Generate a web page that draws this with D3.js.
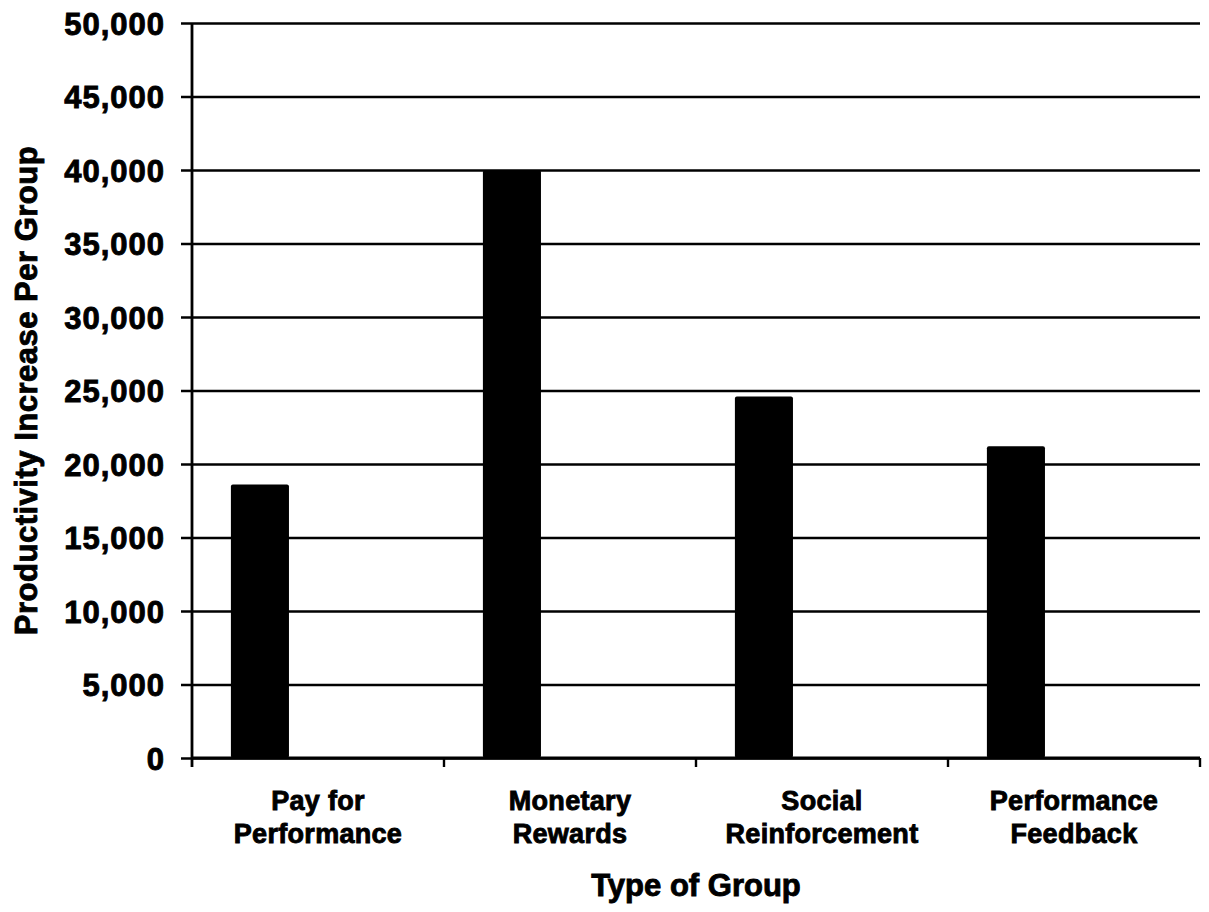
<!DOCTYPE html>
<html>
<head>
<meta charset="utf-8">
<script src="https://cdn.jsdelivr.net/npm/d3@7"></script>
<style>
  html, body { margin: 0; padding: 0; background: #fff; }
  svg { display: block; }
  text { font-family: "Liberation Sans", Arial, Helvetica, sans-serif; font-weight: bold; fill: #000; stroke: #000; stroke-width: 0.9px; }
</style>
</head>
<body>
<svg id="chart" width="1209" height="912"></svg>
<script>
// Productivity increase per group, by type of intervention
const categories = [
  ["Pay for", "Performance"],
  ["Monetary", "Rewards"],
  ["Social", "Reinforcement"],
  ["Performance", "Feedback"]
];
const values = [18600, 40000, 24600, 21200];
const yTicks = [0, 5000, 10000, 15000, 20000, 25000, 30000, 35000, 40000, 45000, 50000];
// each category cluster holds three slots; only the first one carries data
const slots = ["s1", "s2", "s3"];

const margin = { left: 192, right: 9, top: 23, bottom: 154 };
const W = 1209, H = 912;
const innerW = W - margin.left - margin.right;
const innerH = H - margin.top - margin.bottom;

const svg = d3.select("#chart");
const g = svg.append("g").attr("transform", `translate(${margin.left},${margin.top})`);

const keys = categories.map(c => c.join(" "));
const x = d3.scaleBand().domain(keys).range([0, innerW]).padding(0);
const x1 = d3.scaleBand().domain(slots).range([0, x.bandwidth()]).paddingInner(0).paddingOuter(0.67);
const y = d3.scaleLinear().domain([0, 50000]).range([innerH, 0]);

// horizontal gridlines with outside tick marks
const yAxis = d3.axisLeft(y)
  .tickValues(yTicks)
  .tickSize(-innerW)
  .tickPadding(27)
  .tickFormat(d3.format(","));
const ya = g.append("g").call(yAxis);
ya.select(".domain").remove();
ya.selectAll(".tick line")
  .attr("x1", -11)
  .attr("stroke", "#000")
  .attr("stroke-width", 2.6);
ya.selectAll(".tick text")
  .style("font-size", "31px")
  .style("letter-spacing", "1px")
  .attr("dy", "0.36em");

// bars
g.append("g").selectAll("rect")
  .data(values)
  .join("rect")
  .attr("x", (d, i) => x(keys[i]) + x1("s1"))
  .attr("width", x1.bandwidth())
  .attr("y", d => y(d))
  .attr("height", d => innerH - y(d))
  .attr("rx", 2)
  .attr("fill", "#000");

// axes lines
g.append("line")
  .attr("x1", 0).attr("x2", 0)
  .attr("y1", 0).attr("y2", innerH + 9)
  .attr("stroke", "#000").attr("stroke-width", 2.8);
g.append("line")
  .attr("x1", 0).attr("x2", innerW)
  .attr("y1", innerH).attr("y2", innerH)
  .attr("stroke", "#000").attr("stroke-width", 2.8);

// category boundary ticks on x axis
const bounds = keys.map(k => x(k) + x.bandwidth());
g.append("g").selectAll("line")
  .data(bounds)
  .join("line")
  .attr("x1", d => d).attr("x2", d => d)
  .attr("y1", innerH).attr("y2", innerH + 9)
  .attr("stroke", "#000").attr("stroke-width", 2.4);

// category labels (two lines)
const lab = g.append("g").selectAll("text")
  .data(categories)
  .join("text")
  .attr("text-anchor", "middle")
  .attr("x", (d, i) => x(keys[i]) + x.bandwidth() / 2)
  .attr("y", innerH + 52)
  .style("font-size", "27px")
  .style("letter-spacing", "0.3px");
lab.selectAll("tspan")
  .data(d => d)
  .join("tspan")
  .attr("x", function () { return d3.select(this.parentNode).attr("x"); })
  .attr("dy", (d, i) => i === 0 ? 0 : 33)
  .text(d => d);

// axis titles
g.append("text")
  .attr("text-anchor", "middle")
  .attr("x", innerW / 2)
  .attr("y", innerH + 138)
  .style("font-size", "31px")
  .text("Type of Group");

svg.append("text")
  .attr("text-anchor", "middle")
  .attr("transform", `translate(37,${margin.top + innerH / 2}) rotate(-90)`)
  .style("font-size", "31px")
  .style("letter-spacing", "0.5px")
  .text("Productivity Increase Per Group");
</script>
</body>
</html>
